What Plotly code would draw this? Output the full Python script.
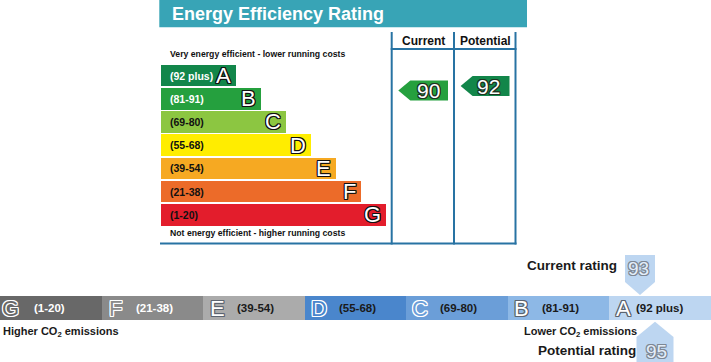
import plotly.graph_objects as go

# ---------------- data ----------------
bands = ["A", "B", "C", "D", "E", "F", "G"]
band_ranges = ["(92 plus)", "(81-91)", "(69-80)", "(55-68)", "(39-54)", "(21-38)", "(1-20)"]
eer_colors = ["#12864a", "#25a03e", "#8cc641", "#ffed00", "#f6a922", "#ec6b29", "#e31d2c"]
eir_colors = ["#bdd6f1", "#8db8e6", "#6b9ed8", "#4a86cc", "#ababab", "#8a8a8a", "#686868"]
eer_label_colors = ["white", "white", "#111111", "#111111", "#111111", "#111111", "#111111"]
eir_label_colors = ["#1a1a1a", "#1a1a1a", "#1a1a1a", "#1a1a1a", "#1a1a1a", "white", "white"]

current_eer = 90
potential_eer = 92
current_eir = 93
potential_eir = 95

title = "Energy Efficiency Rating"
top_note = "Very energy efficient - lower running costs"
bottom_note = "Not energy efficient - higher running costs"
col_titles = ["Current", "Potential"]

# ---------------- layout constants ----------------
W, H = 711, 362
FONT = "Liberation Sans, Arial, sans-serif"
BORDER = "#2873a3"
TEAL = "#38a4b6"

bar_x0 = 161
bar_step_len = 25
bar_min_len = 75
band_y0 = 75.5
band_dy = 23.22
band_h = 21.6

col_lines = [391.7, 454.0, 515.5]
frame_top, header_line, frame_bottom = 32, 49, 243.5

co2_y, co2_h = 308, 24
seg_w = W / 7


def eer_y(r):
    # vertical position of an EER pointer
    return 90.5 - 2.25 * (r - 90)


def eir_x(r):
    # horizontal position of an EIR pointer
    return 640 + 7.5 * (r - 93)


def outline(c, w=1):
    return ", ".join(f"{dx}px {dy}px 0 {c}" for dx in (-w, 0, w) for dy in (-w, 0, w) if dx or dy)


fig = go.Figure()
ann = []


def txt(x, y, text, size, color, xanchor="left", bold=False, shadow="none", yshift=0):
    ann.append(dict(x=x, y=y, xref="x", yref="y", text=(f"<b>{text}</b>" if bold else text),
                    showarrow=False, xanchor=xanchor, yanchor="middle", yshift=yshift,
                    font=dict(family=FONT, size=size, color=color, shadow=shadow)))


# ---- top EER bars ----
lengths = [bar_min_len + bar_step_len * i for i in range(len(bands))]
ys = [band_y0 + band_dy * i for i in range(len(bands))]
fig.add_trace(go.Bar(orientation="h", x=lengths, y=ys, base=bar_x0, width=band_h,
                     marker=dict(color=eer_colors, line=dict(width=0)), hoverinfo="skip"))
for b, rng, L, y, lc in zip(bands, band_ranges, lengths, ys, eer_label_colors):
    txt(bar_x0 + 6.5, y, rng, 10.5, lc, bold=True)
    txt(bar_x0 + L - 3, y, b, 22, "white", xanchor="right", shadow=outline("#111111"))

# ---- EER pointers ----
def eer_arrow(col_i, rating, color, num_shift):
    left, right = col_lines[col_i] + 6.6, col_lines[col_i + 1] - 6.0
    c = eer_y(rating)
    tip_len, hh = 12, 10
    xs = [left, left + tip_len, right, right, left + tip_len, left]
    yy = [c, c - hh, c - hh, c + hh, c + hh, c]
    fig.add_trace(go.Scatter(x=xs, y=yy, fill="toself", fillcolor=color, mode="lines",
                             line=dict(width=0, color=color), hoverinfo="skip"))
    txt((left + tip_len + right) / 2 + num_shift, c, str(rating), 21, "white", xanchor="center",
        shadow=outline("#1d3320"))


eer_arrow(0, current_eer, eer_colors[1], -1)
eer_arrow(1, potential_eer, eer_colors[0], -3)

# ---- bottom EIR band ----
order = list(range(len(bands)))[::-1]  # G .. A left to right
fig.add_trace(go.Bar(orientation="h", x=[seg_w] * 7, y=[co2_y] * 7,
                     base=[k * seg_w for k in range(7)], width=co2_h,
                     marker=dict(color=[eir_colors[i] for i in order], line=dict(width=0)),
                     hoverinfo="skip"))
for k, i in enumerate(order):
    s = k * seg_w
    dark_bg = i >= 5 or i in (2, 3)
    if dark_bg:
        col, sh = eir_colors[i], outline("#ffffff")
    else:
        col, sh = "#ffffff", outline("#5c6470")
    lx = s + (10 if k == 0 else 14)
    txt(lx, co2_y, bands[i], 22, col, xanchor="center", shadow=sh)
    txt(s + (25 if i == 0 else 32), co2_y, band_ranges[i], 11.5, eir_label_colors[i], bold=True)

# ---- EIR pointers ----
cx = eir_x(current_eir)
fig.add_trace(go.Scatter(x=[cx - 15, cx + 15, cx + 15, cx, cx - 15, cx - 15],
                         y=[255, 255, 282, 295, 282, 255], fill="toself", fillcolor=eir_colors[0],
                         mode="lines", line=dict(width=0, color=eir_colors[0]), hoverinfo="skip"))
px = eir_x(potential_eir)
fig.add_trace(go.Scatter(x=[px, px + 18.5, px + 18.5, px - 18.5, px - 18.5, px],
                         y=[321.7, 337, 362, 362, 337, 321.7], fill="toself", fillcolor=eir_colors[0],
                         mode="lines", line=dict(width=0, color=eir_colors[0]), hoverinfo="skip"))
txt(cx - 2, 268, str(current_eir), 19, "#e4eefa", xanchor="center", shadow=outline("#7d8794"))
txt(px + 1.5, 351, str(potential_eir), 19, "#e4eefa", xanchor="center", shadow=outline("#7d8794"))
txt(618.5, 265, "Current rating", 13.5, "#1a1a1a", xanchor="right", bold=True)
txt(637.5, 350, "Potential rating", 13.5, "#1a1a1a", xanchor="right", bold=True)
txt(0.5, 332, "Higher CO<sub>2</sub> emissions", 11, "#1a1a1a", bold=True)
txt(638.5, 332, "Lower CO<sub>2</sub> emissions", 11, "#1a1a1a", xanchor="right", bold=True)

# ---- header / notes ----
txt(170, 13.8, title, 18, "white", bold=True)
txt(167.5, 53.5, top_note, 8.7, "#111111", bold=True)
txt(167.5, 233, bottom_note, 8.7, "#111111", bold=True)
txt((col_lines[0] + col_lines[1]) / 2 + 0.5, 40.5, col_titles[0], 12, "#111111", xanchor="center", bold=True)
txt((col_lines[1] + col_lines[2]) / 2 + 0.5, 40.5, col_titles[1], 12, "#111111", xanchor="center", bold=True)

shapes = [dict(type="rect", xref="x", yref="y", x0=159.3, x1=527, y0=0, y1=27.3,
               fillcolor=TEAL, line=dict(width=0), layer="below")]
for xl in col_lines:
    shapes.append(dict(type="line", xref="x", yref="y", x0=xl, x1=xl, y0=frame_top, y1=frame_bottom + 1,
                       line=dict(color=BORDER, width=2)))
shapes.append(dict(type="line", xref="x", yref="y", x0=col_lines[0] - 1, x1=col_lines[2] + 1,
                   y0=header_line, y1=header_line, line=dict(color=BORDER, width=2)))
shapes.append(dict(type="line", xref="x", yref="y", x0=160, x1=col_lines[2] + 1,
                   y0=frame_bottom, y1=frame_bottom, line=dict(color=BORDER, width=2)))

fig.update_layout(
    width=W, height=H, margin=dict(l=0, r=0, t=0, b=0),
    paper_bgcolor="white", plot_bgcolor="white", showlegend=False,
    barmode="overlay", bargap=0,
    xaxis=dict(range=[0, W], visible=False, fixedrange=True),
    yaxis=dict(range=[H, 0], visible=False, fixedrange=True),
    annotations=ann, shapes=shapes,
)
fig.write_html("out.html", config={"displayModeBar": False},
               post_script="document.body.style.margin='0';document.body.style.overflow='hidden';")
